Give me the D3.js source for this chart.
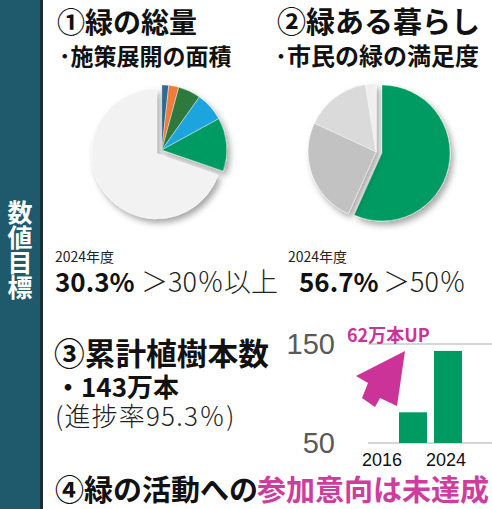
<!DOCTYPE html>
<html>
<head>
<meta charset="utf-8">
<script src="https://cdn.jsdelivr.net/npm/d3@7"></script>
<style>
  body { margin: 0; background: #fff; }
  svg { display: block; font-family: "Noto Sans CJK JP", "Noto Sans", sans-serif; }
</style>
</head>
<body>
<div id="chart"></div>
<script>
// pie 1: 施策展開の面積 (coloured slices = 30.3%)
const areaValues = [1.7, 2.5, 5.6, 7.2, 13.3, 69.7]
const areaColors = ["#2e6b98", "#ee7b3a", "#2f7a3c", "#1ca4df", "#009a63", "#f2f2f2"]
// pie 2: 市民の緑の満足度
const satisValues = [56.7, 25.2, 15.6, 2.5]
const satisColors = ["#009a63", "#c2c2c2", "#dadada", "#efefef"]
// bar chart: 累計植樹本数 (万本)
const barYears = ["2016", "2024"]
const barValues = [81, 143]
const yTicks = [50, 150]

const width = 492, height = 509
const svg = d3.select("#chart").append("svg")
    .attr("width", width)
    .attr("height", height)

const defs = svg.append("defs")
const shadow = defs.append("filter").attr("id", "shadow")
    .attr("x", "-20%").attr("y", "-20%").attr("width", "150%").attr("height", "150%")
shadow.append("feDropShadow")
    .attr("dx", 3).attr("dy", 4).attr("stdDeviation", 3)
    .attr("flood-color", "#000").attr("flood-opacity", 0.35)

// left sidebar
svg.append("rect").attr("x", 0).attr("y", 0).attr("width", 40).attr("height", height).attr("fill", "#1e5a6b")
svg.append("rect").attr("x", 40).attr("y", 0).attr("width", 3).attr("height", height).attr("fill", "#1b2f36")
svg.append("text")
    .attr("x", 20)
    .attr("y", 200)
    .attr("writing-mode", "vertical-rl")
    .attr("fill", "#fff")
    .attr("font-size", 25)
    .attr("font-weight", 700)
    .text("数値目標")

function addText(x, y, size, weight, color, str, anchor) {
    return svg.append("text")
        .attr("x", x).attr("y", y)
        .attr("font-size", size)
        .attr("font-weight", weight)
        .attr("fill", color)
        .attr("text-anchor", anchor || "start")
        .text(str)
}

// headings
addText(57, 33, 28, 700, "#111", "①緑の総量")
addText(59, 65, 23, 700, "#111", "･施策展開の面積")
addText(277, 33, 29, 700, "#111", "②緑ある暮らし")
addText(275, 65, 24, 700, "#111", "･市民の緑の満足度")

// pies
const arc = d3.arc().innerRadius(0)

function drawPie(values, colors, cx, cy, r, groupEnd, explode) {
    const slices = d3.pie().sort(null)(values)
    const splitAngle = slices[groupEnd - 1].endAngle
    const g = svg.append("g").attr("transform", `translate(${cx},${cy})`)
    const groups = [
        { arcs: slices.slice(0, groupEnd), mid: splitAngle / 2, off: explode[0] },
        { arcs: slices.slice(groupEnd), mid: (splitAngle + Math.PI * 2) / 2, off: explode[1] }
    ]
    groups.forEach(grp => {
        const dx = Math.sin(grp.mid) * grp.off, dy = -Math.cos(grp.mid) * grp.off
        g.append("g")
            .attr("transform", `translate(${dx},${dy})`)
            .attr("filter", "url(#shadow)")
            .selectAll("path")
            .data(grp.arcs)
            .join("path")
            .attr("d", d => arc.outerRadius(r)(d))
            .attr("fill", d => colors[d.index])
            .attr("stroke", "#fff")
            .attr("stroke-width", 0.4)
    })
}

drawPie(areaValues, areaColors, 159, 152, 65, 5, [3.5, 3])
drawPie(satisValues, satisColors, 382, 153, 68, 1, [0, 6])

// values below pies
addText(55, 262, 14, 400, "#222", "2024年度")
addText(55, 292, 26, 700, "#111", "30.3%")
addText(141, 292, 27, 300, "#222", "＞30％以上")
addText(288, 262, 14, 400, "#222", "2024年度")
addText(299, 292, 26, 700, "#111", "56.7%")
addText(383, 292, 27, 300, "#222", "＞50％")

// section 3
addText(54, 365, 30.7, 700, "#111", "③累計植樹本数")
addText(55, 397, 26, 700, "#111", "・143万本")
addText(55, 426, 26, 300, "#222", "(進捗率95.3％)").attr("letter-spacing", 1.2)

// bar chart
const y = d3.scaleLinear().domain([50, 150]).range([443, 344])
const x = d3.scaleBand().domain(barYears).range([395.5, 465.5]).paddingInner(0.2).paddingOuter(0.1)
const xLabel = d3.scaleBand().domain(barYears).range([350, 478])

const grid = svg.append("g")
grid.selectAll("line")
    .data(yTicks)
    .join("line")
    .attr("x1", 368).attr("x2", width)
    .attr("y1", d => y(d)).attr("y2", d => y(d))
    .attr("stroke", "#d6d6d6")
    .attr("stroke-width", 2)
grid.selectAll("text")
    .data(yTicks)
    .join("text")
    .attr("x", 335)
    .attr("y", d => y(d) + 10)
    .attr("text-anchor", "end")
    .attr("font-size", 29)
    .attr("fill", "#595959")
    .attr("font-family", "Liberation Sans, Arial, sans-serif")
    .text(d => d)

svg.append("g").selectAll("rect")
    .data(barValues)
    .join("rect")
    .attr("x", (d, i) => x(barYears[i]))
    .attr("width", x.bandwidth())
    .attr("y", d => y(d))
    .attr("height", d => y(50) - y(d))
    .attr("fill", "#009a63")

svg.append("g").selectAll("text")
    .data(barYears)
    .join("text")
    .attr("x", d => xLabel(d) + xLabel.bandwidth() / 2)
    .attr("y", 466)
    .attr("text-anchor", "middle")
    .attr("font-size", 18)
    .attr("fill", "#111")
    .attr("font-family", "Liberation Sans, Arial, sans-serif")
    .text(d => d)

// arrow annotation
const tipX = x("2016") + 6, tipY = y(143)
const arrowPts = [[0, 0], [-49, 25], [-37, 32], [-43, 47], [-30, 56], [-25, 47], [-8, 55]]
svg.append("path")
    .attr("d", d3.line()(arrowPts.map(p => [tipX + p[0], tipY + p[1]])) + "Z")
    .attr("fill", "#cc3399")
addText(347, 342, 18, 700, "#cc3399", "62万本UP")

// section 4
addText(55, 501, 29, 700, "#111", "④緑の活動への")
addText(257, 501, 29, 700, "#cc3d9e", "参加意向は未達成")
</script>
</body>
</html>
